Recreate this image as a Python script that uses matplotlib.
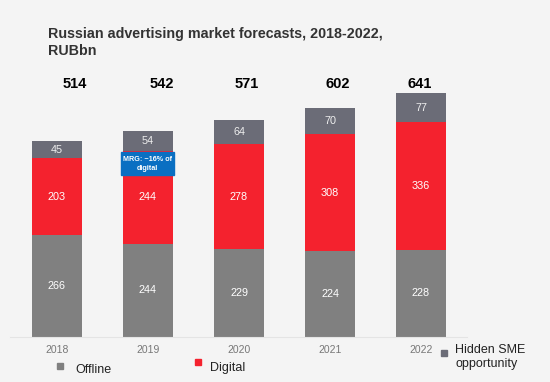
import matplotlib.pyplot as plt
from matplotlib.patches import Rectangle

plt.rcParams['font.family'] = ['Liberation Sans', 'DejaVu Sans']

years = ['2018', '2019', '2020', '2021', '2022']
offline = [266, 244, 229, 224, 228]
digital = [203, 244, 278, 308, 336]
hidden = [45, 54, 64, 70, 77]
totals = [514, 542, 571, 602, 641]
# total labels sit a little off the bar centres in the original slide
total_dx = [0.20, 0.15, 0.08, 0.08, -0.02]

bg = '#f4f4f4'
c_off = '#808080'
c_dig = '#f4222e'
c_hid = '#6b6c77'

W, H = 550, 382
fig = plt.figure(figsize=(5.5, 3.82), dpi=100, facecolor=bg)
ax = fig.add_axes([10/W, (H - 336.5)/H, 457/W, 266/H])
ax.set_facecolor(bg)

x = list(range(len(years)))
w = 0.55
ax.bar(x, offline, w, color=c_off)
ax.bar(x, digital, w, bottom=offline, color=c_dig)
bot2 = [o + d for o, d in zip(offline, digital)]
ax.bar(x, hidden, w, bottom=bot2, color=c_hid)

for i in x:
    ax.text(i, offline[i] / 2, str(offline[i]), ha='center', va='center', color='white', fontsize=7.8)
    ax.text(i, offline[i] + digital[i] / 2, str(digital[i]), ha='center', va='center', color='white', fontsize=7.8)
    ax.text(i, bot2[i] + hidden[i] / 2, str(hidden[i]), ha='center', va='center', color='#eeeeee', fontsize=7.8)
    ax.text(i + total_dx[i], 664, str(totals[i]), ha='center', va='center', color='black',
            fontsize=10.5, fontweight='bold')

# MRG callout
ax.add_patch(Rectangle((0.70, 425), 0.59, 61, color='#0a6fc2', zorder=3))
ax.text(0.995, 455, 'MRG: ~16% of\ndigital', ha='center', va='center', color='white',
        fontsize=5.2, fontweight='bold', linespacing=1.4, zorder=4)

ax.set_xlim(-0.516, 4.505)
ax.set_ylim(0, 700)
ax.set_xticks(x)
ax.set_xticklabels(years, color='#777777', fontsize=7.5)
ax.tick_params(axis='x', length=0, pad=6)
ax.set_yticks([])
for s in ['top', 'right', 'left']:
    ax.spines[s].set_visible(False)
ax.spines['bottom'].set_color('#e4e4e4')
ax.spines['bottom'].set_linewidth(0.8)

fig.text(48/W, 1 - 42.5/H, 'Russian advertising market forecasts, 2018-2022,\nRUBbn',
         ha='left', va='center', fontsize=10.3, fontweight='bold', color='#333333', linespacing=1.25)

# legend
def leg(px, py, color, label, tx, ty):
    fig.patches.append(Rectangle((px/W, 1 - (py + 3)/H), 6/W, 6/H,
                                 transform=fig.transFigure, color=color))
    fig.text(tx/W, 1 - ty/H, label, ha='left', va='center', fontsize=9, color='#222222', linespacing=1.2)

leg(57, 365.5, c_off, 'Offline', 75, 370)
leg(195, 362, c_dig, 'Digital', 210, 368)
leg(441, 353, c_hid, 'Hidden SME\nopportunity', 455, 357)

fig.savefig('out.png', dpi=100, facecolor=bg)
